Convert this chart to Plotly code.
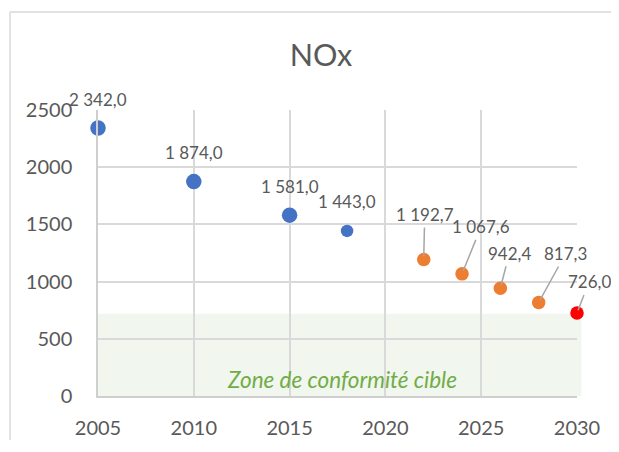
import plotly.graph_objects as go

# ---- data ----
hist_years = [2005, 2010, 2015]
hist_values = [2342.0, 1874.0, 1581.0]
last_year = [2018]
last_value = [1443.0]
proj_years = [2022, 2024, 2026, 2028]
proj_values = [1192.7, 1067.6, 942.4, 817.3]
target_year = [2030]
target_value = [726.0]
zone_top = 720
zone_label = "Zone de conformité cible"
title_text = "NOx"
x_ticks = [2005, 2010, 2015, 2020, 2025, 2030]
y_ticks = [0, 500, 1000, 1500, 2000, 2500]


def fr(v):
    s = f"{v:,.1f}"
    return s.replace(",", " ").replace(".", ",")


BLUE = "#4472C4"
ORANGE = "#ED7D31"
RED = "#FF0000"
GRID = "#D9D9D9"
TXT = "#595959"
FONT = "Lato"

# page has an 8px body margin: figure is sized/offset to compensate
W, H = 611, 432

fig = go.Figure()
fig.add_trace(go.Scatter(x=hist_years, y=hist_values, mode="markers",
                         marker=dict(color=BLUE, size=15.5), cliponaxis=False,
                         hoverinfo="skip"))
fig.add_trace(go.Scatter(x=last_year, y=last_value, mode="markers",
                         marker=dict(color=BLUE, size=12.5), cliponaxis=False,
                         hoverinfo="skip"))
fig.add_trace(go.Scatter(x=proj_years, y=proj_values, mode="markers",
                         marker=dict(color=ORANGE, size=13.5), cliponaxis=False,
                         hoverinfo="skip"))
fig.add_trace(go.Scatter(x=target_year, y=target_value, mode="markers",
                         marker=dict(color=RED, size=13.5), cliponaxis=False,
                         hoverinfo="skip"))

annotations = []
for xv, yv in zip(hist_years + last_year, hist_values + last_value):
    annotations.append(dict(x=xv, y=yv, text=fr(yv), showarrow=False, yshift=29,
                            font=dict(family=FONT, size=17, color=TXT)))
offsets = [(1, -45), (19, -47), (9, -35), (27, -49), (12, -31)]
for (xv, yv), (ax, ay) in zip(zip(proj_years + target_year, proj_values + target_value), offsets):
    annotations.append(dict(x=xv, y=yv, text=fr(yv), showarrow=True, ax=ax, ay=ay,
                            arrowhead=0, arrowwidth=1.5, arrowcolor="#A6A6A6",
                            standoff=3, borderpad=2,
                            font=dict(family=FONT, size=17, color=TXT)))
annotations.append(dict(x=(x_ticks[0] + x_ticks[-1] + 0.5) / 2, y=140, text=zone_label,
                        showarrow=False,
                        font=dict(family=FONT, size=22.5, color="#70AD47", style="italic")))

shapes = [
    dict(type="rect", xref="paper", yref="y", x0=0, x1=1.009, y0=-15, y1=zone_top,
         fillcolor="#F1F6EE", line=dict(width=0), layer="below"),
    dict(type="line", xref="paper", yref="paper", x0=-0.1837, x1=1.25, y0=1.3427, y1=1.3427,
         line=dict(color=GRID, width=1.5), layer="below"),
    dict(type="line", xref="paper", yref="paper", x0=-0.1837, x1=-0.1837, y0=-0.5, y1=1.3427,
         line=dict(color=GRID, width=1.5), layer="below"),
]

fig.update_layout(
    width=W, height=H,
    margin=dict(l=90, r=42, t=102, b=44, autoexpand=False),
    paper_bgcolor="white", plot_bgcolor="rgba(0,0,0,0)",
    showlegend=False,
    title=dict(text=title_text, x=313 / W, xref="container", xanchor="center",
               y=1 - 47 / H, yanchor="middle",
               font=dict(family=FONT, size=30.5, color=TXT)),
    annotations=annotations,
    shapes=shapes,
    xaxis=dict(range=[x_ticks[0], x_ticks[-1]], tickvals=x_ticks,
               ticktext=[str(t) for t in x_ticks], automargin=False,
               showgrid=True, gridcolor=GRID, gridwidth=1.5, zeroline=False,
               showline=True, linecolor="#CFCFCF", linewidth=1.5,
               ticks="", ticklabelstandoff=13,
               tickfont=dict(family=FONT, size=20, color=TXT)),
    yaxis=dict(range=[y_ticks[0], y_ticks[-1]], tickvals=y_ticks,
               ticktext=[str(t) for t in y_ticks], automargin=False,
               showgrid=True, gridcolor=GRID, gridwidth=1.5, zeroline=False,
               showline=True, linecolor="#CFCFCF", linewidth=1.5,
               ticks="", ticklabelstandoff=20,
               tickfont=dict(family=FONT, size=20, color=TXT)),
)

fig.write_html("out.html")
